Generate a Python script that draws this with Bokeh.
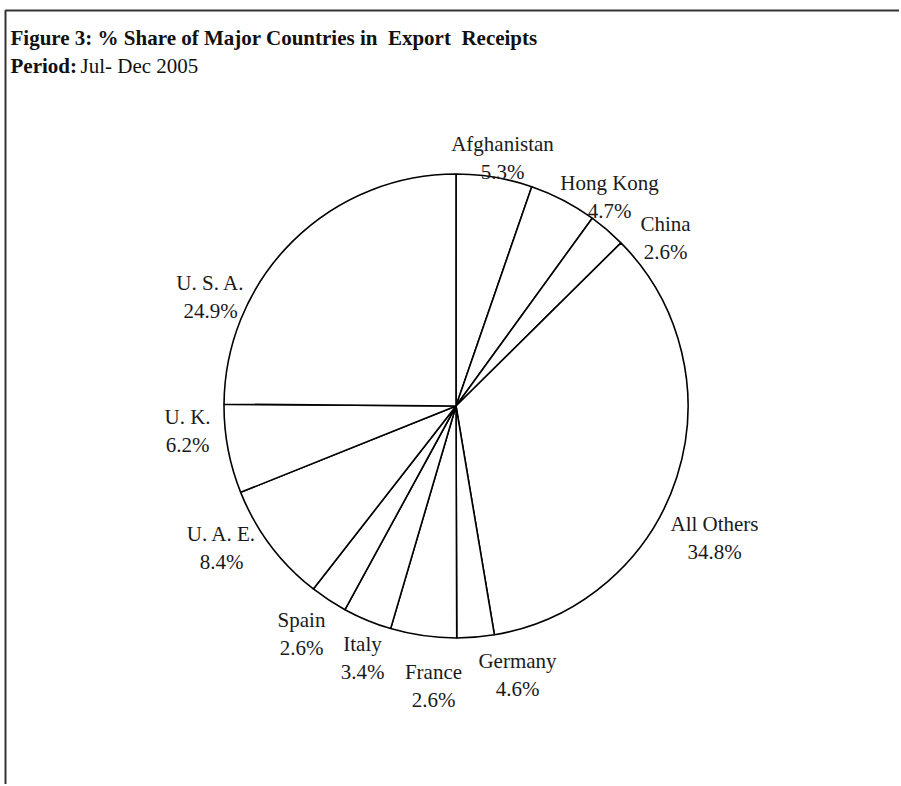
import math
from bokeh.plotting import figure
from bokeh.models import Range1d, ColumnDataSource
from bokeh.core.properties import value
from bokeh.embed import file_html
from bokeh.resources import INLINE

# ---- data ----
countries = ["Afghanistan", "Hong Kong", "China", "All Others", "Germany", "France",
             "Italy", "Spain", "U. A. E.", "U. K.", "U. S. A."]
label_shares = [5.3, 4.7, 2.6, 34.8, 4.6, 2.6, 3.4, 2.6, 8.4, 6.2, 24.9]
# slice sizes as drawn in the picture (clockwise from 12 o'clock)
slice_shares = [5.3, 4.7, 2.6, 34.8, 2.6, 4.6, 3.4, 2.6, 8.4, 6.2, 24.9]

title_text = "Figure 3: % Share of Major Countries in \u00a0Export \u00a0Receipts"
period_bold = "Period:"
period_text = "Jul- Dec 2005"

# ---- layout ----
W, H = 899, 784
PAGE = 0
FONT = value("Liberation Serif")
FS = "21px"


def dx(sxp):
    return sxp - PAGE


def dy(syp):
    return H + PAGE - syp


CX, CY = dx(455.5), dy(405.5)
R = 232
# label anchor offsets (pixels from pie centre: x centre, name baseline)
label_offsets = [(46.5, -262.5), (153.5, -223.5), (209.5, -182.5), (258.5, 117.5),
                 (61.5, 254.5), (-22.5, 265.5), (-93.5, 237.5), (-154.5, 213.5),
                 (-234.5, 127.5), (-268.5, 10.5), (-245.5, -123.5)]
LINE_GAP = 28

p = figure(width=W, height=H, x_range=Range1d(0, W), y_range=Range1d(0, H),
           output_backend="svg", toolbar_location=None, min_border=0,
           x_axis_type=None, y_axis_type=None, outline_line_color=None,
           background_fill_color="white", border_fill_color="white")
p.grid.visible = False

# frame
p.line(x=[dx(5), dx(5), W], y=[0, dy(10), dy(10)], line_color="#333333", line_width=2)

# wedges
total = sum(slice_shares)
starts, ends = [], []
cum = 0.0
for s in slice_shares:
    a0 = math.pi / 2 - 2 * math.pi * cum / total
    cum += s
    a1 = math.pi / 2 - 2 * math.pi * cum / total
    starts.append(a1)
    ends.append(a0)
src = ColumnDataSource(dict(x=[CX] * len(slice_shares), y=[CY] * len(slice_shares),
                            start=starts, end=ends))
p.wedge(x="x", y="y", radius=R, start_angle="start", end_angle="end",
        direction="anticlock", source=src, fill_color="white",
        line_color="black", line_width=1.6)

# labels
lx = [CX + o[0] for o in label_offsets]
ly_name = [CY - o[1] for o in label_offsets]
ly_val = [CY - o[1] - LINE_GAP for o in label_offsets]
p.text(x=lx, y=ly_name, text=countries, text_font=FONT, text_font_size=FS,
       text_align="center", text_baseline="alphabetic", text_color="#1a1a1a")
p.text(x=lx, y=ly_val, text=["%.1f%%" % v for v in label_shares], text_font=FONT,
       text_font_size=FS, text_align="center", text_baseline="alphabetic",
       text_color="#1a1a1a")

# titles
p.text(x=[dx(10)], y=[dy(37)], text=[title_text], text_font=FONT, text_font_size=FS,
       text_font_style="bold", text_align="left", text_baseline="alphabetic",
       text_color="#111111")
p.text(x=[dx(10)], y=[dy(65)], text=[period_bold], text_font=FONT, text_font_size=FS,
       text_font_style="bold", text_align="left", text_baseline="alphabetic",
       text_color="#111111")
p.text(x=[dx(80)], y=[dy(65)], text=[period_text], text_font=FONT, text_font_size=FS,
       text_align="left", text_baseline="alphabetic", text_color="#111111")

open("out.html", "w").write(file_html(p, INLINE))
